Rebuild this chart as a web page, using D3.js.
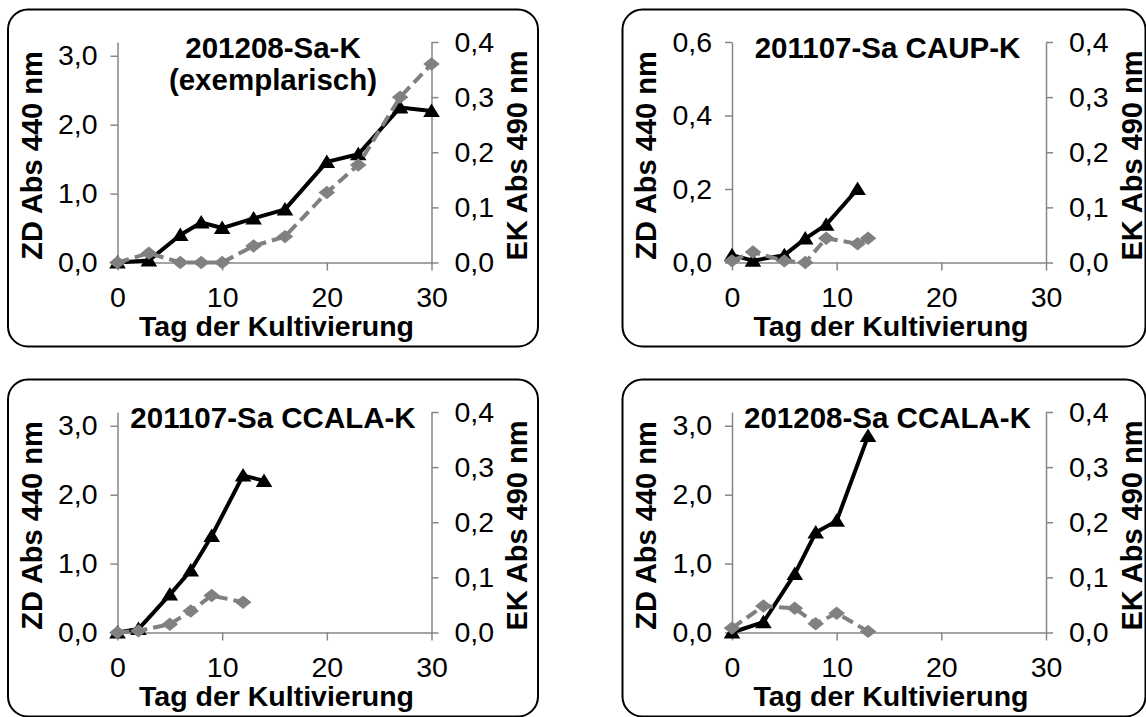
<!DOCTYPE html>
<html>
<head>
<meta charset="utf-8">
<script src="https://cdn.jsdelivr.net/npm/d3@7"></script>
<style>
  body { margin: 0; background: #fff; }
  svg text { font-family: "Liberation Sans", Arial, sans-serif; }
</style>
</head>
<body>
<script>
// ZD = Abs 440 nm (left axis, black), EK = Abs 490 nm (right axis, grey)

var titles = [["201208-Sa-K", "(exemplarisch)"], ["201107-Sa CAUP-K"], ["201107-Sa CCALA-K"], ["201208-Sa CCALA-K"]];

// panel 1: 201208-Sa-K
var zdDays1 = [0, 3, 6, 8, 10, 13, 16, 20, 23, 27, 30];
var zd1 = [0.0, 0.03, 0.40, 0.58, 0.50, 0.64, 0.77, 1.46, 1.57, 2.25, 2.20];
var ekDays1 = [0, 3, 6, 8, 10, 13, 16, 20, 23, 27, 30];
var ek1 = [0.0, 0.017, 0.0, 0.0, 0.0, 0.030, 0.047, 0.127, 0.177, 0.300, 0.360];

// panel 2: 201107-Sa CAUP-K
var zdDays2 = [0, 2, 5, 7, 9, 12];
var zd2 = [0.02, 0.005, 0.02, 0.065, 0.103, 0.20];
var ekDays2 = [0, 2, 5, 7, 9, 12, 13];
var ek2 = [0.003, 0.019, 0.003, 0.0, 0.044, 0.034, 0.044];

// panel 3: 201107-Sa CCALA-K
var zdDays3 = [0, 2, 5, 7, 9, 12, 14];
var zd3 = [0.0, 0.05, 0.55, 0.90, 1.40, 2.28, 2.20];
var ekDays3 = [0, 2, 5, 7, 9, 12];
var ek3 = [0.0, 0.003, 0.015, 0.039, 0.067, 0.055];

// panel 4: 201208-Sa CCALA-K
var zdDays4 = [0, 3, 6, 8, 10, 13];
var zd4 = [0.0, 0.15, 0.85, 1.45, 1.62, 2.85];
var ekDays4 = [0, 3, 6, 8, 10, 13];
var ek4 = [0.008, 0.048, 0.044, 0.016, 0.035, 0.002];

// axes
var xTicks = [0, 10, 20, 30];
var zdTicksBig = [0, 1, 2, 3];
var zdTicksSmall = [0, 0.2, 0.4, 0.6];
var ekTicks = [0, 0.1, 0.2, 0.3, 0.4];
var zdMax = [3.2, 0.6, 3.2, 3.2];

var zdDays = [zdDays1, zdDays2, zdDays3, zdDays4];
var zdVals = [zd1, zd2, zd3, zd4];
var ekDays = [ekDays1, ekDays2, ekDays3, ekDays4];
var ekVals = [ek1, ek2, ek3, ek4];

var fmt = function(d) { return d3.format(".1f")(d).replace(".", ","); };

var svg = d3.select("body")
    .append("svg")
    .attr("width", 1146)
    .attr("height", 717);

// box layout
var boxes = [{x: 8, y: 9.5, w: 530}, {x: 622.5, y: 9.5, w: 523},
             {x: 8, y: 379.5, w: 530}, {x: 622.5, y: 379.5, w: 523}];
var boxH = 337;
var plotL = 109.5, plotR = 423.5, plotT = 32.5, plotB = 253;
var axisColor = "#868686", grey = "#808080";

// markers are a bit wider than tall, like in the excel export
var diamond = {
  draw: function(c) {
    c.moveTo(0, -6.7); c.lineTo(8.3, 0); c.lineTo(0, 6.7); c.lineTo(-8.3, 0); c.closePath();
  }
};
var triangle = {
  draw: function(c) {
    c.moveTo(0, -7.5); c.lineTo(8.3, 6); c.lineTo(-8.3, 6); c.closePath();
  }
};

function styleAxis(sel) {
  sel.attr("font-size", 28.5);
  sel.selectAll("path, line").style("stroke", axisColor).style("stroke-width", 1.5);
  sel.selectAll("text").style("fill", "#000");
}

titles.forEach(function(t, i) {
  var b = boxes[i];
  var g = svg.append("g").attr("transform", "translate(" + b.x + "," + b.y + ")");

  g.append("rect")
    .attr("width", b.w)
    .attr("height", boxH)
    .attr("rx", 20)
    .attr("ry", 20)
    .style("fill", "#fff")
    .style("stroke", "#000")
    .style("stroke-width", 2);

  var x = d3.scaleLinear().domain([0, 30]).range([plotL, plotR]);
  var yL = d3.scaleLinear().domain([0, zdMax[i]]).range([plotB, plotT]);
  var yR = d3.scaleLinear().domain([0, 0.4]).range([plotB, plotT]);

  g.append("g")
    .attr("transform", "translate(" + plotL + ",0)")
    .call(d3.axisLeft(yL).tickValues(i == 1 ? zdTicksSmall : zdTicksBig)
          .tickSize(7).tickPadding(13).tickSizeOuter(0).tickFormat(fmt))
    .call(styleAxis);

  g.append("g")
    .attr("transform", "translate(" + plotR + ",0)")
    .call(d3.axisRight(yR).tickValues(ekTicks)
          .tickSize(7).tickPadding(16).tickSizeOuter(0).tickFormat(fmt))
    .call(styleAxis);

  g.append("g")
    .attr("transform", "translate(0," + plotB + ")")
    .call(d3.axisBottom(x).tickValues(xTicks)
          .tickSize(8).tickPadding(16).tickSizeOuter(0).tickFormat(d3.format("d")))
    .call(styleAxis);

  // title
  var title = g.append("text")
    .style("text-anchor", "middle")
    .style("font-weight", "bold")
    .style("font-size", "29.5px");
  t.forEach(function(line, k) {
    title.append("tspan")
      .attr("x", (plotL + plotR) / 2 - 1.5)
      .attr("y", 48.5 + k * 32)
      .text(line);
  });

  // axis titles
  g.append("text")
    .attr("transform", "translate(23.5,146)rotate(-90)")
    .attr("dy", "0.35em")
    .style("text-anchor", "middle")
    .style("font-weight", "bold")
    .style("font-size", "29px")
    .text("ZD Abs 440 nm");

  g.append("text")
    .attr("transform", "translate(509,146)rotate(-90)")
    .attr("dy", "0.35em")
    .style("text-anchor", "middle")
    .style("font-weight", "bold")
    .style("font-size", "29px")
    .text("EK Abs 490 nm");

  g.append("text")
    .attr("x", (plotL + plotR) / 2 + 2)
    .attr("y", 326)
    .style("text-anchor", "middle")
    .style("font-weight", "bold")
    .style("font-size", "28.5px")
    .text("Tag der Kultivierung");

  var zd = zdDays[i].map(function(d, k) { return [d, zdVals[i][k]]; });
  var ek = ekDays[i].map(function(d, k) { return [d, ekVals[i][k]]; });

  // ZD series
  g.append("path")
    .datum(zd)
    .attr("d", d3.line().x(function(d) { return x(d[0]); }).y(function(d) { return yL(d[1]); }))
    .style("fill", "none")
    .style("stroke", "#000")
    .style("stroke-width", 4)
    .style("stroke-linejoin", "round");

  g.selectAll(".tri")
    .data(zd)
    .enter().append("path")
    .attr("class", "tri")
    .attr("transform", function(d) { return "translate(" + x(d[0]) + "," + yL(d[1]) + ")"; })
    .attr("d", d3.symbol().type(triangle))
    .style("fill", "#000");

  // EK series
  g.append("path")
    .datum(ek)
    .attr("d", d3.line().x(function(d) { return x(d[0]); }).y(function(d) { return yR(d[1]); }))
    .style("fill", "none")
    .style("stroke", grey)
    .style("stroke-width", 4)
    .style("stroke-dasharray", "12,6");

  g.selectAll(".dia")
    .data(ek)
    .enter().append("path")
    .attr("class", "dia")
    .attr("transform", function(d) { return "translate(" + x(d[0]) + "," + yR(d[1]) + ")"; })
    .attr("d", d3.symbol().type(diamond))
    .style("fill", grey);
});
</script>
</body>
</html>
